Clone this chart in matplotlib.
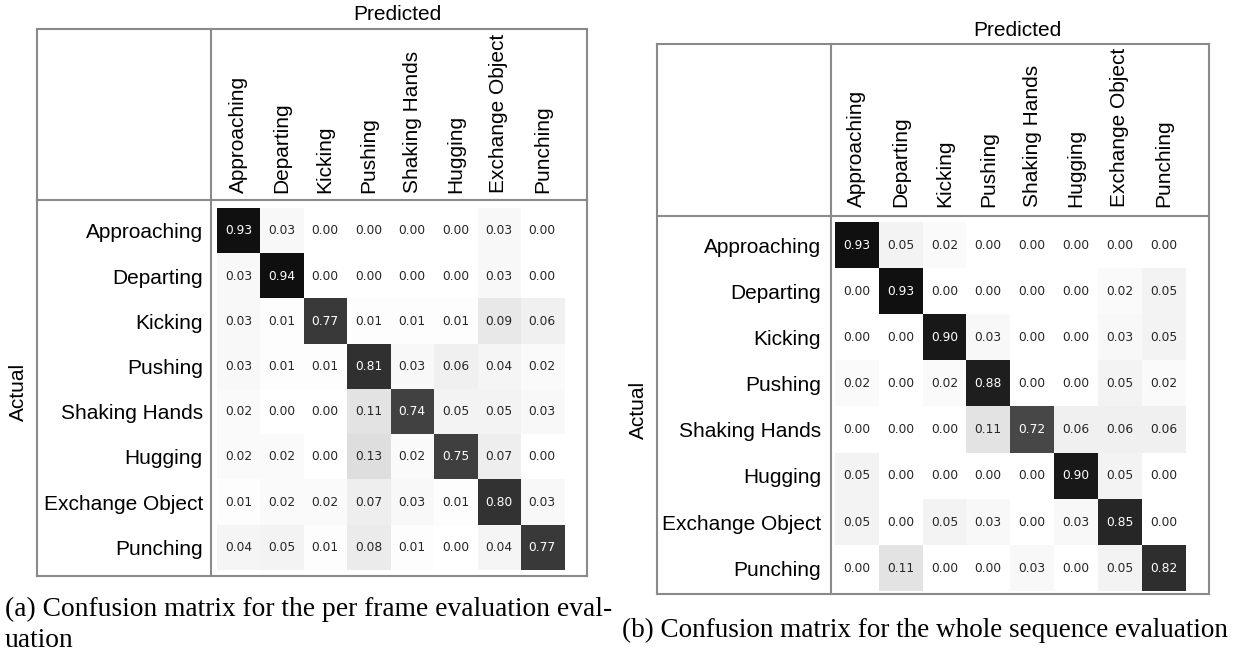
import numpy as np
import matplotlib.pyplot as plt
from matplotlib.lines import Line2D

# classes (same order for rows and columns)
classes = ['Approaching', 'Departing', 'Kicking', 'Pushing',
           'Shaking Hands', 'Hugging', 'Exchange Object', 'Punching']

# (a) per frame evaluation
cm_frame = [
    [0.93, 0.03, 0.00, 0.00, 0.00, 0.00, 0.03, 0.00],
    [0.03, 0.94, 0.00, 0.00, 0.00, 0.00, 0.03, 0.00],
    [0.03, 0.01, 0.77, 0.01, 0.01, 0.01, 0.09, 0.06],
    [0.03, 0.01, 0.01, 0.81, 0.03, 0.06, 0.04, 0.02],
    [0.02, 0.00, 0.00, 0.11, 0.74, 0.05, 0.05, 0.03],
    [0.02, 0.02, 0.00, 0.13, 0.02, 0.75, 0.07, 0.00],
    [0.01, 0.02, 0.02, 0.07, 0.03, 0.01, 0.80, 0.03],
    [0.04, 0.05, 0.01, 0.08, 0.01, 0.00, 0.04, 0.77],
]

# (b) whole sequence evaluation
cm_seq = [
    [0.93, 0.05, 0.02, 0.00, 0.00, 0.00, 0.00, 0.00],
    [0.00, 0.93, 0.00, 0.00, 0.00, 0.00, 0.02, 0.05],
    [0.00, 0.00, 0.90, 0.03, 0.00, 0.00, 0.03, 0.05],
    [0.02, 0.00, 0.02, 0.88, 0.00, 0.00, 0.05, 0.02],
    [0.00, 0.00, 0.00, 0.11, 0.72, 0.06, 0.06, 0.06],
    [0.05, 0.00, 0.00, 0.00, 0.00, 0.90, 0.05, 0.00],
    [0.05, 0.00, 0.05, 0.03, 0.00, 0.03, 0.85, 0.00],
    [0.00, 0.11, 0.00, 0.00, 0.03, 0.00, 0.05, 0.82],
]

captions = ['(a) Confusion matrix for the per frame evaluation eval-\nuation',
            '(b) Confusion matrix for the whole sequence evaluation']

W, H = 1243, 653
SANS = 'Liberation Sans'
SERIF = 'Liberation Serif'
LINE_C = '#8a8a8a'

fig = plt.figure(figsize=(W / 100, H / 100), dpi=100)


def fx(x):
    return x / W


def fy(y):
    return 1 - y / H


def hline(x0, x1, y):
    fig.add_artist(Line2D([fx(x0), fx(x1)], [fy(y), fy(y)],
                          transform=fig.transFigure, color=LINE_C, lw=1.5))


def vline(x, y0, y1):
    fig.add_artist(Line2D([fx(x), fx(x)], [fy(y0), fy(y1)],
                          transform=fig.transFigure, color=LINE_C, lw=1.5))


def draw_panel(cm, box, div, grid, pred_xy, act_xy):
    bx0, bx1, by0, by1 = box
    dx, dy = div
    gx0, gx1, gy0, gy1 = grid

    # table frame
    hline(bx0, bx1, by0)
    hline(bx0, bx1, by1)
    hline(bx0, bx1, dy)
    vline(bx0, by0, by1)
    vline(bx1, by0, by1)
    vline(dx, by0, by1)

    ax = fig.add_axes([fx(gx0), fy(gy1), (gx1 - gx0) / W, (gy1 - gy0) / H])
    data = np.array(cm)
    ax.imshow(data, cmap='gray_r', vmin=0, vmax=1, aspect='auto',
              interpolation='nearest')
    for i in range(data.shape[0]):
        for j in range(data.shape[1]):
            v = data[i, j]
            ax.text(j, i, f'{v:.2f}', ha='center', va='center', fontsize=8.8,
                    color='white' if v > 0.5 else '#262626')

    ax.set_xticks(range(len(classes)))
    ax.set_yticks(range(len(classes)))
    ax.set_xticklabels(classes, rotation=90, fontsize=15, family=SANS)
    ax.set_yticklabels(classes, fontsize=15, family=SANS)
    ax.xaxis.tick_top()
    ax.tick_params(axis='x', length=0, pad=11)
    ax.tick_params(axis='y', length=0, pad=10)
    for s in ax.spines.values():
        s.set_visible(False)

    fig.text(fx(pred_xy[0]), fy(pred_xy[1]), 'Predicted', ha='center',
             va='center', fontsize=15, family=SANS)
    fig.text(fx(act_xy[0]), fy(act_xy[1]), 'Actual', ha='center',
             va='center', rotation=90, fontsize=15, family=SANS)


draw_panel(cm_frame, (37.3, 586.7, 29.3, 576), (210.7, 200),
           (216.7, 564, 208.3, 570), (397, 15), (18, 392))
draw_panel(cm_seq, (656.7, 1209, 44.3, 594), (830.7, 216),
           (835, 1185.3, 222.3, 591.3), (1017, 31), (638, 410))

fig.text(fx(5), fy(597), captions[0], ha='left', va='top', fontsize=19.8,
         family=SERIF, linespacing=1.3)
fig.text(fx(622), fy(630), captions[1], ha='left', va='center', fontsize=19.5,
         family=SERIF)

fig.savefig('out.png', dpi=100)
